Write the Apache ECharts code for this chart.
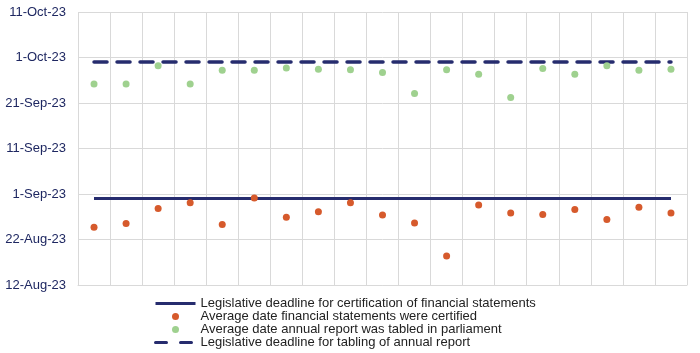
<!DOCTYPE html>
<html>
<head>
<meta charset="utf-8">
<script src="https://cdn.jsdelivr.net/npm/echarts@6/dist/echarts.min.js"></script>
<style>
  html, body { margin: 0; padding: 0; background: #fff; }
  #chart { width: 700px; height: 353px; }
</style>
</head>
<body>
<div id="chart"></div>
<script>
// values are days after 12-Aug-23 (0 = 12-Aug-23, 20 = 1-Sep-23)
const categories = ['1','2','3','4','5','6','7','8','9','10','11','12','13','14','15','16','17','18','19'];
const certifiedDays = [12.7, 13.5, 16.8, 18.1, 13.3, 19.1, 14.9, 16.1, 18.1, 15.4, 13.6, 6.4, 17.6, 15.8, 15.5, 16.6, 14.4, 17.1, 15.8];
const tabledDays = [44.2, 44.2, 48.2, 44.2, 47.2, 47.2, 47.7, 47.4, 47.3, 46.7, 42.1, 47.3, 46.3, 41.2, 47.6, 46.3, 48.2, 47.2, 47.4];
const certDeadline = 19;   // 31-Aug-23
const tablingDeadline = 49; // 30-Sep-23
const baseDate = Date.UTC(2023, 7, 12);

const months = ['Jan','Feb','Mar','Apr','May','Jun','Jul','Aug','Sep','Oct','Nov','Dec'];
function fmtDay(v) {
  const d = new Date(baseDate + v * 86400000);
  return d.getUTCDate() + '-' + months[d.getUTCMonth()] + '-' + String(d.getUTCFullYear()).slice(2);
}

const navy = '#262c6e';
const names = [
  'Legislative deadline for certification of financial statements',
  'Average date financial statements were certified',
  'Average date annual report was tabled in parliament',
  'Legislative deadline for tabling of annual report'
];
const noDot = { color: 'rgba(0,0,0,0)', borderWidth: 0, opacity: 0 };

const chart = echarts.init(document.getElementById('chart'), null, { renderer: 'canvas' });
chart.setOption({
  animation: false,
  grid: { left: 78, right: 13, top: 12, bottom: 68, containLabel: false },
  legend: {
    orient: 'vertical',
    left: 154,
    top: 297,
    height: 60,
    padding: 0,
    itemWidth: 40,
    itemHeight: 7,
    itemGap: 0,
    textStyle: { fontFamily: 'Liberation Sans, Arial, sans-serif', fontSize: 13, color: '#222', lineHeight: 13 },
    data: [
      { name: names[0], itemStyle: noDot, lineStyle: { width: 3 } },
      { name: names[1], icon: 'circle' },
      { name: names[2], icon: 'circle' },
      { name: names[3], itemStyle: noDot, lineStyle: { width: 3, type: [11, 14] } }
    ]
  },
  xAxis: {
    type: 'category',
    data: categories,
    boundaryGap: true,
    axisLine: { show: true, lineStyle: { color: '#d9d9d9', width: 1 } },
    axisTick: { show: false },
    axisLabel: { show: false },
    splitLine: { show: true, lineStyle: { color: '#d9d9d9', width: 1 } }
  },
  yAxis: {
    type: 'value',
    min: 0,
    max: 60,
    interval: 10,
    axisLine: { show: false },
    axisTick: { show: false },
    axisLabel: {
      margin: 12,
      fontFamily: 'Liberation Sans, Arial, sans-serif',
      fontSize: 13,
      color: '#1e2761',
      formatter: fmtDay
    },
    splitLine: { show: true, lineStyle: { color: '#d9d9d9', width: 1 } }
  },
  series: [
    {
      name: names[0],
      type: 'line',
      data: categories.map(() => certDeadline),
      symbol: 'none',
      lineStyle: { color: navy, width: 3 },
      itemStyle: { color: navy },
      z: 3
    },
    {
      name: names[1],
      type: 'scatter',
      data: certifiedDays,
      symbol: 'circle',
      symbolSize: 7,
      itemStyle: { color: '#d65a2c', opacity: 1 },
      z: 4
    },
    {
      name: names[2],
      type: 'scatter',
      data: tabledDays,
      symbol: 'circle',
      symbolSize: 7,
      itemStyle: { color: '#9fd18f', opacity: 1 },
      z: 4
    },
    {
      name: names[3],
      type: 'line',
      data: categories.map(() => tablingDeadline),
      symbol: 'none',
      lineStyle: { color: navy, width: 3.5, type: [13, 10], cap: 'round' },
      itemStyle: { color: navy },
      z: 3
    }
  ]
});
</script>
</body>
</html>
